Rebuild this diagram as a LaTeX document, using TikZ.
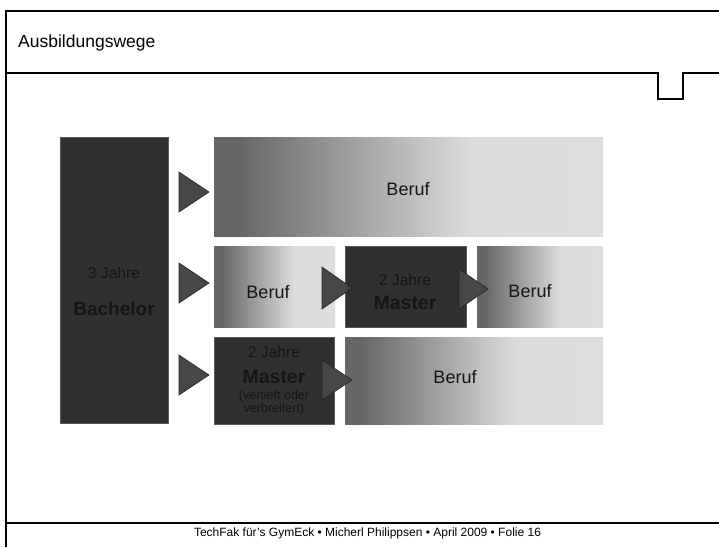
\documentclass[tikz,border=0pt]{standalone}
\usepackage{fontspec}
\setmainfont{Liberation Sans}
\definecolor{bdark}{HTML}{666666}
\definecolor{blight}{HTML}{DCDCDC}
\definecolor{boxdark}{HTML}{303030}
\definecolor{trifill}{HTML}{474747}
\definecolor{txtdark}{HTML}{151515}
\pgfdeclarehorizontalshading{berufshade}{100bp}{color(0bp)=(bdark); color(28bp)=(bdark); color(58bp)=(blight); color(100bp)=(blight!85!white)}
\tikzset{
  frameline/.style={line width=2pt, black},
  beruf/.style={shading=berufshade, draw=none},
  darkbox/.style={fill=boxdark, draw=gray!70!black, line width=0.6pt},
  tri/.style={fill=trifill, draw=black!85, line width=0.6pt, line join=miter},
  lbl/.style={text=txtdark, inner sep=0pt, align=center},
}
\begin{document}
\begin{tikzpicture}[x=1pt,y=-1pt]
\useasboundingbox (0,0) rectangle (719,547);
\fill[white] (0,0) rectangle (719,547);
% frame
\draw[frameline] (719,10.5) -- (6,10.5) -- (6,547);
\draw[frameline] (6,522.5) -- (719,522.5);
\draw[frameline] (6,72.5) -- (658,72.5) -- (658,99) -- (683,99) -- (683,72.5) -- (719,72.5);
\node[anchor=base west, inner sep=0pt, font=\fontsize{17.5}{20}\selectfont] (title) at (18,47) {Ausbildungswege};
\node[anchor=base, inner sep=0pt, font=\fontsize{12}{14}\selectfont] (footer) at (367.5,536) {TechFak für's GymEck • Micherl Philippsen • April 2009 • Folie 16};
% bachelor
\path[darkbox] (60,137) rectangle (168,423);
\node[lbl, font=\fontsize{15.6}{18}\selectfont, anchor=base] (bj) at (114,278) {3 Jahre};
\node[lbl, font=\bfseries\fontsize{19}{22}\selectfont, anchor=base] (bb) at (114,315) {Bachelor};
% row 1
\path[beruf] (214,137) rectangle (603,236);
\node[lbl, font=\fontsize{18}{20}\selectfont, anchor=base] (b1) at (408,195) {Beruf};
% row 2
\path[beruf] (214,246) rectangle (335,327);
\node[lbl, font=\fontsize{18}{20}\selectfont, anchor=base] (b2) at (268,298) {Beruf};
\path[darkbox] (345,246) rectangle (466,327);
\node[lbl, font=\fontsize{15.6}{18}\selectfont, anchor=base] (m2j) at (405,285) {2 Jahre};
\node[lbl, font=\bfseries\fontsize{19.5}{22}\selectfont, anchor=base] (m2) at (405,309) {Master};
\path[beruf] (477,246) rectangle (603,327);
\node[lbl, font=\fontsize{18}{20}\selectfont, anchor=base] (b3) at (530,297) {Beruf};
% row 3
\path[darkbox] (214,337) rectangle (334,424);
\node[lbl, font=\fontsize{15.6}{18}\selectfont, anchor=base] (m3j) at (274,357) {2 Jahre};
\node[lbl, font=\bfseries\fontsize{19.5}{22}\selectfont, anchor=base] (m3) at (274,383) {Master};
\node[lbl, font=\fontsize{12.5}{13.5}\selectfont, anchor=base] (m3a) at (274,399) {(vertieft oder};
\node[lbl, font=\fontsize{12.5}{13.5}\selectfont, anchor=base] (m3b) at (274,412) {verbreitert)};
\path[beruf] (345,337) rectangle (603,424);
\node[lbl, font=\fontsize{18}{20}\selectfont, anchor=base] (b4) at (455,383) {Beruf};
% triangles
\draw[tri] (179,172) -- (209,192) -- (179,212) -- cycle;
\draw[tri] (179,263) -- (209,283) -- (179,303) -- cycle;
\draw[tri] (179,355) -- (209,375) -- (179,395) -- cycle;
\draw[tri] (322,267) -- (352,288) -- (322,309) -- cycle;
\draw[tri] (459,269) -- (488,289) -- (459,309) -- cycle;
\draw[tri] (322,360) -- (352,380) -- (322,400) -- cycle;
\end{tikzpicture}
\end{document}
